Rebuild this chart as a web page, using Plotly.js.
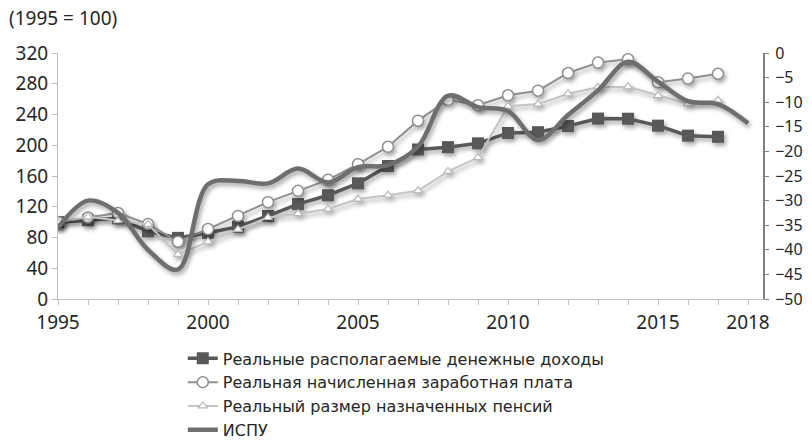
<!DOCTYPE html>
<html>
<head>
<meta charset="utf-8">
<script src="https://cdn.plot.ly/plotly-3.0.1.min.js"></script>
<style>
html,body{margin:0;padding:0;background:#fff;}
#chart{width:812px;height:440px;}
.scatterlayer .trace{filter:drop-shadow(2px 3px 2px rgba(0,0,0,0.35));}
</style>
</head>
<body>
<div id="chart"></div>
<script>
const years = [1995,1996,1997,1998,1999,2000,2001,2002,2003,2004,2005,2006,2007,2008,2009,2010,2011,2012,2013,2014,2015,2016,2017];
const income = [100,102.5,105,88,79.5,86,94,108,123.5,135,150.5,173,194.5,197.5,202.5,216,217,225,234.7,234.5,225.5,212.5,211];
const wages = [100,106,112,97.5,74.5,91,108,126,140.7,155,175.4,198,232,259,252,265,271,294,307.5,312,282,286.7,293];
const pensions = [100,107,102,97,58,74.5,90.5,106,111,117,130,135,140.7,166,184,250.7,253.5,267,275.5,276,264.5,254,258.5];
const ispuYears = [1995,1996,1997,1998,1999,2000,2001,2002,2003,2004,2005,2006,2007,2008,2009,2010,2011,2012,2013,2014,2015,2016,2017,2018];
const ispu = [-35.5,-30,-32.5,-40,-44,-26.7,-26,-26.5,-23.5,-26.3,-23.2,-22.8,-19,-8.7,-11,-11.8,-17.7,-12.6,-7.6,-1.8,-5.8,-9.8,-10.4,-14.3];
const xTickVals = [1995,2000,2005,2010,2015,2018];
const xTickText = ['1995','2000','2005','2010','2015','2018'];
const names = ['Реальные располагаемые денежные доходы','Реальная начисленная заработная плата','Реальный размер назначенных пенсий','ИСПУ'];
const yTitle = '(1995 = 100)';

const FONT = 'Noto Sans, Open Sans, sans-serif';
const LFONT = 'DejaVu Sans, Noto Sans, sans-serif';
const traces = [
  {x: years, y: income, name: names[0], type: 'scatter', mode: 'lines+markers',
   line: {color: '#595959', width: 3.5},
   marker: {symbol: 'square', size: 12, color: '#595959'}},
  {x: years, y: wages, name: names[1], type: 'scatter', mode: 'lines+markers',
   line: {color: '#8f8f8f', width: 2},
   marker: {symbol: 'circle', size: 11, color: '#ffffff', line: {color: '#8f8f8f', width: 1.5}}},
  {x: years, y: pensions, name: names[2], type: 'scatter', mode: 'lines+markers',
   line: {color: '#c4c4c4', width: 2},
   marker: {symbol: 'triangle-up', size: 8, color: '#ffffff', line: {color: '#b8b8b8', width: 1.2}}},
  {x: ispuYears, y: ispu, name: names[3], type: 'scatter', mode: 'lines', yaxis: 'y2',
   line: {color: '#6e6e6e', width: 4.5, shape: 'spline', smoothing: 1}}
];

const layout = {
  width: 812, height: 440,
  margin: {l: 58, r: 49, t: 53, b: 141},
  paper_bgcolor: '#ffffff', plot_bgcolor: '#ffffff',
  font: {family: FONT, size: 19, color: '#262626'},
  showlegend: true,
  legend: {orientation: 'v', xref: 'paper', x: 0.177, xanchor: 'left',
    yref: 'container', y: 0.224, yanchor: 'top',
    font: {family: LFONT, size: 16, color: '#262626'}, tracegroupgap: 0, bgcolor: 'rgba(0,0,0,0)'},
  xaxis: {range: [1995, 2018.5], tickmode: 'array', tickvals: xTickVals, ticktext: xTickText,
    showgrid: false, zeroline: false, showline: true, linecolor: '#bfbfbf', linewidth: 1,
    ticks: 'outside', ticklen: 5, tickcolor: '#bfbfbf', ticklabelstandoff: 1,
    minor: {tickmode: 'linear', tick0: 1995, dtick: 1, ticks: 'outside', ticklen: 5, tickcolor: '#bfbfbf', showgrid: false},
    tickfont: {family: FONT, size: 19, color: '#262626'}},
  yaxis: {range: [0, 320], tickmode: 'linear', tick0: 0, dtick: 40,
    showgrid: false, zeroline: false, showline: true, linecolor: '#bfbfbf', linewidth: 1,
    ticks: 'outside', ticklen: 5, tickcolor: '#bfbfbf',
    tickfont: {family: FONT, size: 19, color: '#262626'}},
  yaxis2: {range: [-50, 0], tickmode: 'linear', tick0: -50, dtick: 5, overlaying: 'y', side: 'right',
    showgrid: false, zeroline: false, showline: true, linecolor: '#808080', linewidth: 2,
    ticks: 'outside', ticklen: 4, tickcolor: '#808080', ticklabelstandoff: 3,
    tickfont: {family: FONT, size: 16, color: '#262626'}},
  annotations: [{text: yTitle, xref: 'paper', yref: 'paper', x: -0.072, y: 1.0, yshift: 35,
    xanchor: 'left', yanchor: 'middle', showarrow: false, font: {family: FONT, size: 19, color: '#262626'}}]
};

Plotly.newPlot('chart', traces, layout, {displayModeBar: false, staticPlot: true});
</script>
</body>
</html>
